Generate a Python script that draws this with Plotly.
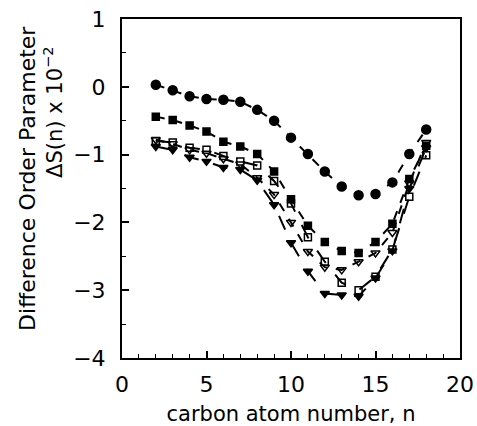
import plotly.graph_objects as go

carbon = [2, 3, 4, 5, 6, 7, 8, 9, 10, 11, 12, 13, 14, 15, 16, 17, 18]
filled_circle = [0.03, -0.05, -0.14, -0.18, -0.19, -0.22, -0.34, -0.50, -0.75, -0.99, -1.25, -1.47, -1.60, -1.58, -1.41, -0.99, -0.63]
filled_square = [-0.44, -0.49, -0.57, -0.66, -0.81, -0.88, -0.99, -1.25, -1.66, -2.05, -2.29, -2.42, -2.45, -2.29, -2.02, -1.36, -0.87]
open_square = [-0.80, -0.82, -0.90, -0.93, -1.02, -1.10, -1.16, -1.39, -1.72, -2.22, -2.58, -2.89, -3.00, -2.80, -2.40, -1.62, -1.01]
open_triangle = [-0.78, -0.84, -0.93, -0.98, -1.06, -1.14, -1.34, -1.59, -2.00, -2.43, -2.66, -2.70, -2.58, -2.45, -2.15, -1.42, -0.82]
filled_triangle = [-0.88, -0.93, -1.04, -1.10, -1.19, -1.22, -1.38, -1.74, -2.30, -2.72, -3.05, -3.07, -3.09, -2.82, -2.42, -1.50, -0.90]

x_ticks = [0, 5, 10, 15, 20]
y_ticks = [1, 0, -1, -2, -3, -4]

FONT = "DejaVu Sans, Liberation Sans, sans-serif"
fig = go.Figure()

series = [
    (filled_circle, "circle", 9, "dash"),
    (filled_square, "square", 7, "dash"),
    (open_square, "square-open", 7, "longdash"),
    (open_triangle, "triangle-down-open", 8, "dash"),
    (filled_triangle, "triangle-down", 8, "longdash"),
]
for vals, sym, sz, dash in series:
    fig.add_trace(go.Scatter(
        x=carbon, y=vals, mode="lines+markers",
        line=dict(color="black", width=2, dash=dash),
        marker=dict(symbol=sym, size=sz, color="black", line=dict(color="black", width=1.5)),
        showlegend=False,
    ))

fig.update_layout(
    width=477, height=426,
    margin=dict(l=122, r=17, t=19, b=68),
    paper_bgcolor="white", plot_bgcolor="white",
    font=dict(family=FONT, color="black", size=22),
)
fig.update_xaxes(
    range=[0, 20], tickvals=x_ticks, ticktext=[str(v) for v in x_ticks],
    ticks="inside", ticklen=7, tickwidth=1.5, tickcolor="black",
    minor=dict(dtick=1, ticks="inside", ticklen=4, tickwidth=1.2, tickcolor="black"),
    showline=True, linecolor="black", linewidth=2, mirror=True,
    showgrid=False, zeroline=False, ticklabelstandoff=6, automargin=False,
    title=dict(text="carbon atom number, n", font=dict(size=21), standoff=11),
)
fig.update_yaxes(
    range=[-4, 1], tickvals=y_ticks, ticktext=[("−" + str(-v)) if v < 0 else str(v) for v in y_ticks],
    ticks="inside", ticklen=7, tickwidth=1.5, tickcolor="black",
    minor=dict(dtick=0.5, ticks="inside", ticklen=4, tickwidth=1.2, tickcolor="black"),
    showline=True, linecolor="black", linewidth=2, mirror=True,
    showgrid=False, zeroline=False, ticklabelstandoff=10, automargin=False,
)
fig.add_annotation(text="Difference Order Parameter", textangle=-90,
                   xref="paper", yref="paper", x=0, y=0.528, xanchor="center", yanchor="middle",
                   xshift=-95, showarrow=False, font=dict(size=22))
fig.add_annotation(text="ΔS(n) x 10<sup>−2</sup>", textangle=-90,
                   xref="paper", yref="paper", x=0, y=0.726, xanchor="center", yanchor="middle",
                   xshift=-69, showarrow=False, font=dict(size=21))

fig.write_html("out.html", config={"displayModeBar": False},
               post_script="document.body.style.margin='0';document.body.style.overflow='hidden';")
